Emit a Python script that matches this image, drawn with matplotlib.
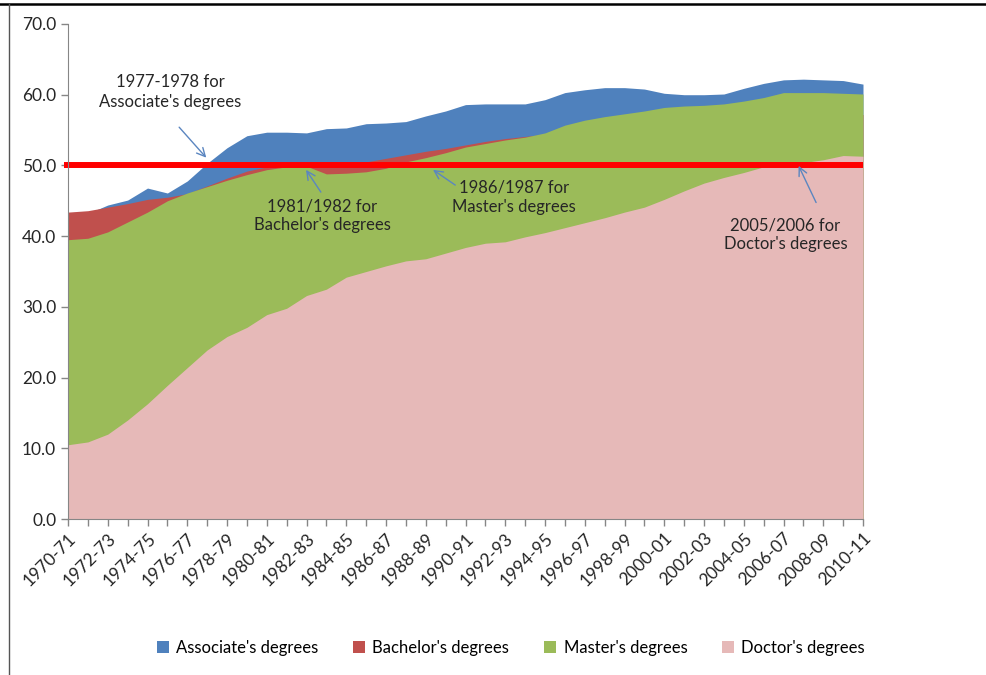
import numpy as np
import matplotlib
matplotlib.use("Agg")
import matplotlib.pyplot as plt
from matplotlib.patches import Patch
from matplotlib.lines import Line2D

plt.rcParams['font.family'] = ['Lato', 'DejaVu Sans']

# school years 1970-71 .. 2010-11
start_years = list(range(1970, 2011))
years = [f"{y}-{(y + 1) % 100:02d}" for y in start_years]

# percent of degrees conferred to women
associate = [43.0, 43.2, 44.4, 45.1, 46.8, 46.1, 47.8, 50.3, 52.5, 54.2,
             54.7, 54.7, 54.6, 55.2, 55.3, 55.9, 56.0, 56.2, 57.0, 57.7,
             58.6, 58.7, 58.7, 58.7, 59.3, 60.3, 60.7, 61.0, 61.0, 60.8,
             60.2, 60.0, 60.0, 60.1, 60.9, 61.6, 62.1, 62.2, 62.1, 62.0,
             61.5]
bachelor = [43.4, 43.6, 44.1, 44.6, 45.2, 45.5, 46.0, 47.1, 48.2, 49.2,
            49.8, 50.3, 50.4, 50.0, 50.2, 50.5, 51.0, 51.5, 52.0, 52.4,
            52.9, 53.4, 53.8, 54.1, 54.4, 55.1, 55.6, 56.1, 56.8, 57.2,
            57.3, 57.4, 57.5, 57.5, 57.4, 57.5, 57.4, 57.3, 57.2, 57.4,
            57.2]
master = [39.5, 39.7, 40.6, 42.0, 43.4, 45.0, 46.1, 47.0, 47.9, 48.7,
          49.4, 49.8, 49.9, 48.8, 48.9, 49.1, 49.6, 50.5, 51.1, 51.8,
          52.6, 53.1, 53.6, 54.0, 54.6, 55.7, 56.4, 56.9, 57.3, 57.7,
          58.2, 58.4, 58.5, 58.7, 59.1, 59.6, 60.3, 60.3, 60.3, 60.2,
          60.1]
doctor = [10.5, 10.9, 12.0, 14.0, 16.3, 18.9, 21.4, 23.9, 25.8, 27.1,
          28.9, 29.8, 31.6, 32.5, 34.2, 35.0, 35.8, 36.5, 36.8, 37.6,
          38.4, 39.0, 39.2, 39.9, 40.5, 41.2, 41.9, 42.6, 43.4, 44.1,
          45.2, 46.4, 47.5, 48.3, 49.0, 49.8, 50.2, 50.4, 50.8, 51.4,
          51.3]

series_names = ["Associate's degrees", "Bachelor's degrees",
                "Master's degrees", "Doctor's degrees"]
colors = ['#4F81BD', '#C0504D', '#9BBB59', '#E6B9B8']

# annotations: text, text centre (x, y), arrow tail, arrow tip
notes = [
    ("1977-1978 for\nAssociate's degrees", (5.15, 60.4), (5.5, 55.7), (7.05, 50.8)),
    ("1981/1982 for\nBachelor's degrees", (12.8, 42.9), (12.8, 45.9), (11.9, 49.7)),
    ("1986/1987 for\nMaster's degrees", (22.45, 45.5), (19.6, 47.0), (18.25, 49.6)),
    ("2005/2006 for\nDoctor's degrees", (36.1, 40.2), (37.7, 44.4), (36.7, 50.3)),
]

fig = plt.figure(figsize=(9.87, 6.75), dpi=100)
ax = fig.add_axes([68 / 987, 1 - 519 / 675, (863 - 68) / 987, (519 - 24) / 675])

x = np.arange(len(years))
for vals, c in zip([associate, bachelor, master, doctor], colors):
    ax.fill_between(x, 0, vals, color=c, linewidth=0)

# 50% reference line
ax.plot([-0.2, 40], [50.1, 50.1], color='#FF0000', lw=4.3,
        solid_capstyle='butt', clip_on=False)

arrow_col = '#5B86C0'
for txt, tpos, tail, tip in notes:
    ax.text(tpos[0], tpos[1], txt, ha='center', va='center', fontsize=12,
            linespacing=1.25, color='#262626')
    ax.annotate('', xy=tip, xytext=tail,
                arrowprops=dict(arrowstyle='->', color=arrow_col, lw=1,
                                mutation_scale=15))

ax.set_xlim(0, 40)
ax.set_ylim(0, 70)
ax.set_yticks(np.arange(0, 71, 10))
ax.set_yticklabels([f"{v:.1f}" for v in range(0, 71, 10)], fontsize=12.5)
ax.set_xticks(x)
ax.set_xticklabels([lab if i % 2 == 0 else '' for i, lab in enumerate(years)],
                   rotation=45, ha='right', rotation_mode='anchor', fontsize=12.5)
ax.tick_params(axis='both', color='#868686', length=5, width=1, direction='out',
               labelcolor='#262626')
ax.tick_params(axis='x', pad=3)
for s in ['top', 'right']:
    ax.spines[s].set_visible(False)
for s in ['left', 'bottom']:
    ax.spines[s].set_color('#868686')

handles = [Patch(facecolor=c, edgecolor='none') for c in colors]
fig.legend(handles, series_names, loc='center', ncol=4, frameon=False,
           bbox_to_anchor=(511 / 987, 1 - 648 / 675), fontsize=12,
           handlelength=0.7, handleheight=0.7, handletextpad=0.45,
           columnspacing=2.1)

# outer frame remnants
fig.add_artist(Line2D([0, 1], [1 - 4 / 675, 1 - 4 / 675], color='black', lw=1.8,
                      transform=fig.transFigure))
fig.add_artist(Line2D([9 / 987, 9 / 987], [0, 1 - 4 / 675], color='#555555', lw=1,
                      transform=fig.transFigure))

fig.savefig('out.png', dpi=100)
